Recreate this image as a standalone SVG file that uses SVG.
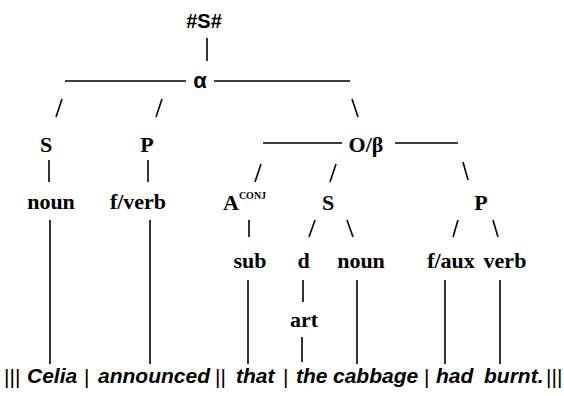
<svg xmlns="http://www.w3.org/2000/svg" width="564" height="396" viewBox="0 0 564 396">
<style>
.l{font-family:"Liberation Serif","Times New Roman",serif;font-weight:bold;font-size:22px;fill:#000;text-anchor:middle}
.st{text-anchor:start}
.s{font-family:"Liberation Sans",Arial,sans-serif;font-weight:bold;fill:#000;text-anchor:middle}
.w{font-family:"Liberation Sans",Arial,sans-serif;font-weight:bold;font-style:italic;font-size:21px;fill:#000}
.b{font-family:"Liberation Sans",Arial,sans-serif;font-size:21px;fill:#000}
line{stroke:#000;stroke-width:1.6;fill:none}
</style>
<rect width="564" height="396" fill="#fff"/>
<g id="connectors">
<line x1="207" y1="38" x2="207" y2="61"/>
<line x1="65" y1="81" x2="186" y2="81"/>
<line x1="214" y1="81" x2="350" y2="81"/>
<line x1="62" y1="99" x2="56" y2="117"/>
<line x1="162" y1="99" x2="156" y2="117"/>
<line x1="352" y1="99" x2="358" y2="117"/>
<line x1="49" y1="160" x2="49" y2="182"/>
<line x1="148" y1="160" x2="148" y2="182"/>
<line x1="263" y1="143" x2="342" y2="143"/>
<line x1="395" y1="143" x2="458" y2="143"/>
<line x1="261" y1="164" x2="255" y2="182"/>
<line x1="336" y1="164" x2="330" y2="182"/>
<line x1="463" y1="162" x2="468" y2="180"/>
<line x1="50" y1="220" x2="50" y2="364"/>
<line x1="150" y1="220" x2="150" y2="364"/>
<line x1="249" y1="220" x2="249" y2="237"/>
<line x1="315" y1="220" x2="309" y2="237"/>
<line x1="347" y1="220" x2="353" y2="237"/>
<line x1="458" y1="220" x2="453" y2="237"/>
<line x1="493" y1="220" x2="498" y2="237"/>
<line x1="248" y1="280" x2="248" y2="364"/>
<line x1="303" y1="280" x2="303" y2="302"/>
<line x1="302" y1="337" x2="302" y2="362"/>
<line x1="357" y1="280" x2="357" y2="364"/>
<line x1="445" y1="280" x2="445" y2="364"/>
<line x1="500" y1="280" x2="500" y2="364"/>
</g>
<g id="n-root"><text class="s" x="204" y="28" font-size="20">#S#</text></g>
<g id="n-alpha"><text class="s" x="200" y="88" font-size="22">α</text></g>
<g id="n-S1"><text class="l" x="46" y="152">S</text></g>
<g id="n-P1"><text class="l" x="147" y="152">P</text></g>
<g id="n-Obeta"><text class="l" x="366" y="152">O/β</text></g>
<g id="n-noun1"><text class="l" x="51" y="209">noun</text></g>
<g id="n-fverb"><text class="l" x="138" y="209">f/verb</text></g>
<g id="n-Aconj"><text class="l st" x="223" y="210">A<tspan font-size="10" dy="-11">CONJ</tspan></text></g>
<g id="n-S2"><text class="l" x="328" y="210">S</text></g>
<g id="n-P2"><text class="l" x="481" y="210">P</text></g>
<g id="n-sub"><text class="l" x="250" y="268">sub</text></g>
<g id="n-d"><text class="l" x="303.5" y="268">d</text></g>
<g id="n-noun2"><text class="l" x="361" y="268">noun</text></g>
<g id="n-faux"><text class="l" x="451" y="268">f/aux</text></g>
<g id="n-verb"><text class="l" x="505" y="268">verb</text></g>
<g id="n-art"><text class="l" x="304" y="327">art</text></g>
<g id="sentence">
<text class="b" x="4" y="384">|||</text>
<text class="w" x="27" y="383">Celia</text>
<text class="b" x="84" y="384">|</text>
<text class="w" x="98" y="383">announced</text>
<text class="b" x="215" y="384">||</text>
<text class="w" x="236" y="383">that</text>
<text class="b" x="283" y="384">|</text>
<text class="w" x="296" y="383">the</text>
<text class="w" x="333" y="383">cabbage</text>
<text class="b" x="424" y="384">|</text>
<text class="w" x="436" y="383">had</text>
<text class="w" x="484" y="383">burnt.</text>
<text class="b" x="546" y="384">|||</text>
</g>
</svg>
